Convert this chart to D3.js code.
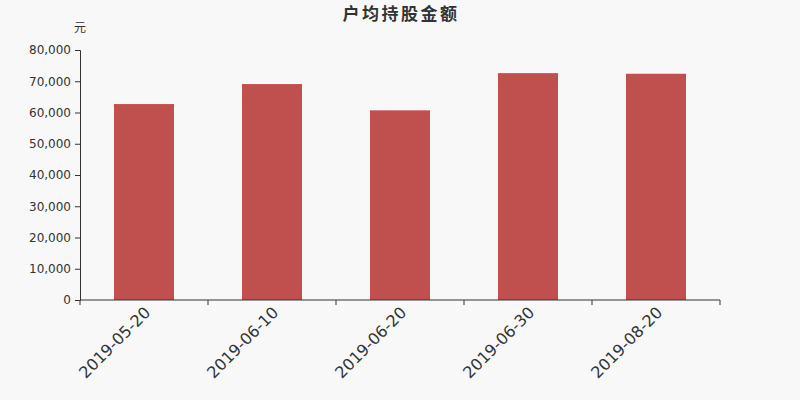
<!DOCTYPE html>
<html>
<head>
<meta charset="utf-8">
<script src="https://cdn.jsdelivr.net/npm/d3@7"></script>
<style>
  body { margin: 0; background: #f8f8f8; }
  svg { display: block; font-family: "DejaVu Sans", sans-serif; }
</style>
</head>
<body>
<svg width="800" height="400"></svg>
<script>
// chart data
var dates = ["2019-05-20", "2019-06-10", "2019-06-20", "2019-06-30", "2019-08-20"];
var amounts = [62700, 69100, 60700, 72600, 72400];
var yTicks = [0, 10000, 20000, 30000, 40000, 50000, 60000, 70000, 80000];

var svg = d3.select("svg");
var padL = 80, padR = 720, padT = 50, padB = 300;

svg.append("rect").attr("width", 800).attr("height", 400).attr("fill", "#f8f8f8");

var x = d3.scaleBand().domain(dates).range([padL, padR]);
var y = d3.scaleLinear().domain([0, 80000]).range([padB, padT]);

// bars
svg.selectAll("rect.bar")
  .data(amounts).enter()
  .append("rect")
  .attr("class", "bar")
  .attr("x", function(d, i) { return x(dates[i]) + (x.bandwidth() - 60) / 2; })
  .attr("width", 60)
  .attr("y", function(d) { return y(d); })
  .attr("height", function(d) { return y(0) - y(d); })
  .attr("fill", "#c0504e");

// y axis
var yAxis = svg.append("g")
  .attr("transform", "translate(" + padL + ",0)")
  .call(d3.axisLeft(y).tickValues(yTicks).tickSize(5).tickPadding(4)
    .tickFormat(d3.format(",")));
yAxis.attr("font-family", "DejaVu Sans, sans-serif");
yAxis.select(".domain").attr("stroke", "#333");
yAxis.selectAll(".tick line").attr("stroke", "#333");
yAxis.selectAll("text").attr("fill", "#333").style("font-size", "12px");

// x axis with ticks on band edges
var xAxis = svg.append("g").attr("transform", "translate(0," + padB + ")");
xAxis.append("line").attr("x1", padL).attr("x2", padR).attr("stroke", "#333");
xAxis.selectAll("line.edge")
  .data(dates.concat(["end"])).enter()
  .append("line")
  .attr("class", "edge")
  .attr("x1", function(d, i) { return padL + i * x.step(); })
  .attr("x2", function(d, i) { return padL + i * x.step(); })
  .attr("y1", 0).attr("y2", 5)
  .attr("stroke", "#333");
xAxis.selectAll("text")
  .data(dates).enter()
  .append("text")
  .attr("transform", function(d) {
    return "translate(" + (x(d) + x.bandwidth() / 2 - 1) + ",5) rotate(-45)";
  })
  .attr("text-anchor", "end")
  .attr("dy", "0.75em")
  .attr("fill", "#333")
  .style("font-size", "16px")
  .text(function(d) { return d; });

// title and unit
svg.append("text")
  .attr("x", 401).attr("y", 20)
  .attr("text-anchor", "middle")
  .attr("fill", "#333")
  .style("font-size", "17px")
  .style("letter-spacing", "2.5px")
  .style("font-weight", "bold")
  .style("font-family", "'Noto Sans CJK SC', sans-serif")
  .text("户均持股金额");
svg.append("text")
  .attr("x", 80).attr("y", 32)
  .attr("text-anchor", "middle")
  .attr("fill", "#333")
  .style("font-size", "12px")
  .style("font-family", "'Noto Sans CJK SC', sans-serif")
  .text("元");
</script>
</body>
</html>
